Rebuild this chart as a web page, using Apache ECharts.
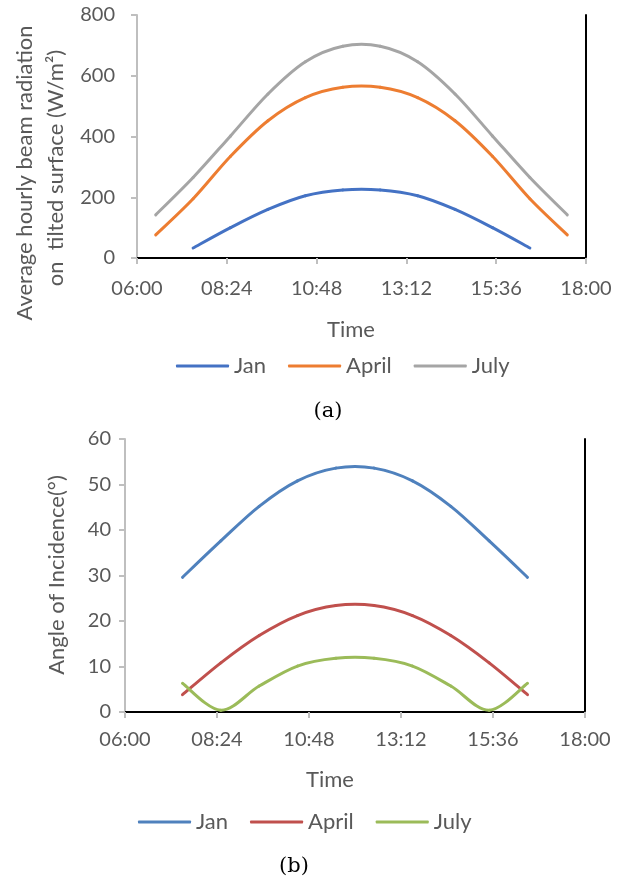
<!DOCTYPE html>
<html>
<head>
<meta charset="utf-8">
<script src="https://cdn.jsdelivr.net/npm/echarts@6/dist/echarts.min.js"></script>
<style>
  html, body { margin: 0; padding: 0; background: #fff; }
  #chart { width: 628px; height: 884px; }
</style>
</head>
<body>
<div id="chart"></div>
<script>
// hours of the day (decimal) at which values are given
const hoursLong = [6.5, 7.5, 8.5, 9.5, 10.5, 11.5, 12.5, 13.5, 14.5, 15.5, 16.5, 17.5];
const hoursShort = [7.5, 8.5, 9.5, 10.5, 11.5, 12.5, 13.5, 14.5, 15.5, 16.5];
const monthNames = ['Jan', 'April', 'July'];

// (a) average hourly beam radiation on tilted surface, W/m2
const beamJan = [33, 100, 160, 205, 224, 224, 205, 160, 100, 33];
const beamApril = [76, 195, 335, 452, 528, 562, 562, 528, 452, 335, 195, 76];
const beamJuly = [142, 265, 402, 540, 646, 697, 697, 646, 540, 402, 265, 142];

// (b) angle of incidence, degrees
const angleJan = [29.6, 37.6, 45.2, 50.8, 53.6, 53.6, 50.8, 45.2, 37.6, 29.6];
const angleApril = [3.8, 10.8, 16.8, 21.2, 23.4, 23.4, 21.2, 16.8, 10.8, 3.8];
const angleJuly = [6.3, 0.4, 5.7, 10.1, 11.8, 11.8, 10.1, 5.7, 0.4, 6.3];

const colorsA = ['#4472C4', '#ED7D31', '#A5A5A5'];
const colorsB = ['#4F81BD', '#C0504D', '#9BBB59'];

const FONT = 'Lato';
const TXT = '#595959';
const GRAY = '#BFBFBF';

function hhmm(v) {
    const m = Math.round(v * 60);
    const h = Math.floor(m / 60), mm = m % 60;
    return String(h).padStart(2, '0') + ':' + String(mm).padStart(2, '0');
}

function bottomX(grid, margin) {
    return {
        gridIndex: grid, type: 'value', min: 6, max: 18, interval: 2.4,
        axisLine: { show: true, lineStyle: { color: GRAY, width: 2 } },
        axisTick: { show: true, length: 6, lineStyle: { color: GRAY, width: 2 } },
        axisLabel: { color: TXT, fontSize: 20, fontFamily: FONT, margin: margin, formatter: hhmm },
        splitLine: { show: false }
    };
}
function topX(grid) {
    return {
        gridIndex: grid, type: 'value', position: 'top', min: 6, max: 18,
        axisLine: { show: true, lineStyle: { color: '#000', width: 2 } },
        axisTick: { show: false }, axisLabel: { show: false }, splitLine: { show: false }
    };
}
function leftY(grid, max, step, margin) {
    return {
        gridIndex: grid, type: 'value', min: 0, max: max, interval: step,
        axisLine: { show: true, lineStyle: { color: GRAY, width: 2 } },
        axisTick: { show: true, length: 6, lineStyle: { color: GRAY, width: 2 } },
        axisLabel: { color: TXT, fontSize: 20, fontFamily: FONT, margin: margin },
        splitLine: { show: false }
    };
}
function rightY(grid, max) {
    return {
        gridIndex: grid, type: 'value', position: 'right', min: 0, max: max,
        axisLine: { show: true, lineStyle: { color: '#000', width: 2 } },
        axisTick: { show: false }, axisLabel: { show: false }, splitLine: { show: false }
    };
}

// Excel-like smoothed line: one cubic segment per pair of points (Catmull-Rom),
// positions come from the axes through api.coord
function smoothLine(name, xi, yi, xs, ys, color) {
    const data = xs.map((x, i) => [x, ys[i]]);
    const n = data.length;
    return {
        name: name, type: 'custom', xAxisIndex: xi, yAxisIndex: yi,
        data: data, itemStyle: { color: color },
        renderItem: function (params, api) {
            const i = params.dataIndex;
            if (i >= n - 1) return null;
            const pt = k => api.coord(data[Math.max(0, Math.min(n - 1, k))]);
            const p0 = pt(i - 1), p1 = pt(i), p2 = pt(i + 1), p3 = pt(i + 2);
            return {
                type: 'bezierCurve',
                shape: {
                    x1: p1[0], y1: p1[1], x2: p2[0], y2: p2[1],
                    cpx1: p1[0] + (p2[0] - p0[0]) / 6, cpy1: p1[1] + (p2[1] - p0[1]) / 6,
                    cpx2: p2[0] - (p3[0] - p1[0]) / 6, cpy2: p2[1] - (p3[1] - p1[1]) / 6
                },
                style: { stroke: color, fill: null, lineWidth: 3, lineCap: 'round' }
            };
        }
    };
}
function label(text, x, y, size, rot, family) {
    return {
        type: 'text', x: x, y: y, rotation: rot || 0,
        style: {
            text: text, fill: family ? '#000' : TXT, fontSize: size,
            fontFamily: family || FONT, align: 'center', verticalAlign: 'middle'
        }
    };
}

const namesB = monthNames.map(n => n + ' (b)');
const legendBase = {
    itemWidth: 53, itemHeight: 3, itemGap: 22, icon: 'roundRect',
    textStyle: { color: TXT, fontSize: 22, fontFamily: FONT }
};
const chart = echarts.init(document.getElementById('chart'));
chart.setOption({
    animation: false,
    backgroundColor: '#fff',
    grid: [
        { left: 137, right: 42, top: 15, bottom: 626 },
        { left: 125, right: 43, top: 439, bottom: 172 }
    ],
    xAxis: [bottomX(0, 21), topX(0), bottomX(1, 18), topX(1)],
    yAxis: [leftY(0, 800, 200, 22), rightY(0, 800), leftY(1, 60, 10, 14), rightY(1, 60)],
    legend: [
        Object.assign({ data: monthNames, left: 171, top: 350 }, legendBase),
        Object.assign({ data: namesB, left: 133, top: 806, formatter: n => n.replace(' (b)', '') }, legendBase)
    ],
    series: [
        smoothLine('Jan', 0, 0, hoursShort, beamJan, colorsA[0]),
        smoothLine('April', 0, 0, hoursLong, beamApril, colorsA[1]),
        smoothLine('July', 0, 0, hoursLong, beamJuly, colorsA[2]),
        smoothLine(namesB[0], 2, 2, hoursShort, angleJan, colorsB[0]),
        smoothLine(namesB[1], 2, 2, hoursShort, angleApril, colorsB[1]),
        smoothLine(namesB[2], 2, 2, hoursShort, angleJuly, colorsB[2])
    ],
    graphic: [
        label('Average hourly beam radiation', 25, 173, 22, Math.PI / 2),
        label('on  tilted surface (W/m²)', 56, 168, 22, Math.PI / 2),
        label('Time', 351, 330, 22),
        label('(a)', 328, 412, 21, 0, 'DejaVu Serif'),
        label('Angle of Incidence(°)', 57, 575, 22, Math.PI / 2),
        label('Time', 330, 780, 22),
        label('(b)', 294, 867, 21, 0, 'DejaVu Serif')
    ]
});
</script>
</body>
</html>
